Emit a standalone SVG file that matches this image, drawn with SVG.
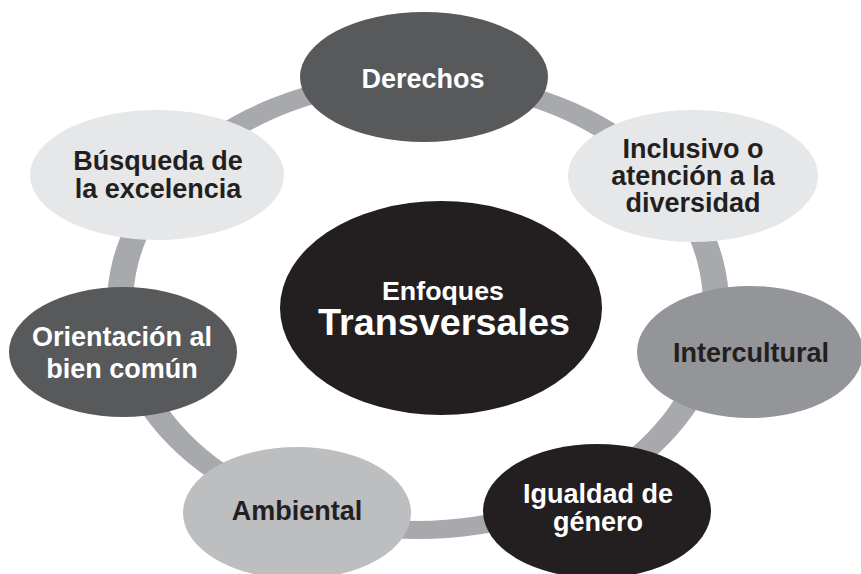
<svg xmlns="http://www.w3.org/2000/svg" width="861" height="574" viewBox="0 0 861 574">
<style>
text{font-family:"Liberation Sans",Arial,sans-serif;font-weight:bold;font-size:27px;text-anchor:middle}
.w{fill:#ffffff}
.k{fill:#231f20}
.t1{font-size:26px}
.t2{font-size:36px}
</style>
<rect width="861" height="574" fill="#ffffff"/>
<g id="connectors">
<path fill="#a7a9ac" fill-rule="evenodd" d="M107,305 a311,234 0 1,0 622,0 a311,234 0 1,0 -622,0 Z M133,305 a285,216 0 1,0 570,0 a285,216 0 1,0 -570,0 Z"/>
</g>
<g id="center">
<ellipse cx="441" cy="308" rx="161" ry="107" fill="#231f20"/>
<text class="w t1" x="443" y="300" textLength="122" lengthAdjust="spacingAndGlyphs">Enfoques</text>
<text class="w t2" x="444" y="335" textLength="252" lengthAdjust="spacingAndGlyphs">Transversales</text>
</g>
<g id="derechos">
<ellipse cx="424" cy="77" rx="124" ry="65" fill="#58595b"/>
<text class="w" x="423" y="88">Derechos</text>
</g>
<g id="inclusivo">
<ellipse cx="693" cy="176" rx="125" ry="66" fill="#e6e7e8"/>
<text class="k" x="693" y="158">Inclusivo o</text>
<text class="k" x="693" y="185">atención a la</text>
<text class="k" x="693" y="212">diversidad</text>
</g>
<g id="intercultural">
<ellipse cx="750" cy="352" rx="113" ry="66" fill="#939598"/>
<text class="k" x="751" y="362">Intercultural</text>
</g>
<g id="igualdad">
<ellipse cx="597" cy="511" rx="114" ry="67" fill="#231f20"/>
<text class="w" x="598" y="503">Igualdad de</text>
<text class="w" x="598" y="531">género</text>
</g>
<g id="ambiental">
<ellipse cx="297" cy="513" rx="114" ry="66" fill="#bcbec0"/>
<text class="k" x="297" y="520">Ambiental</text>
</g>
<g id="orientacion">
<ellipse cx="123" cy="352" rx="114" ry="65" fill="#58595b"/>
<text class="w" x="122" y="346">Orientación al</text>
<text class="w" x="122" y="378">bien común</text>
</g>
<g id="busqueda">
<ellipse cx="157" cy="175" rx="127" ry="65" fill="#e6e7e8"/>
<text class="k" x="158" y="170">Búsqueda de</text>
<text class="k" x="158" y="198">la excelencia</text>
</g>
</svg>
